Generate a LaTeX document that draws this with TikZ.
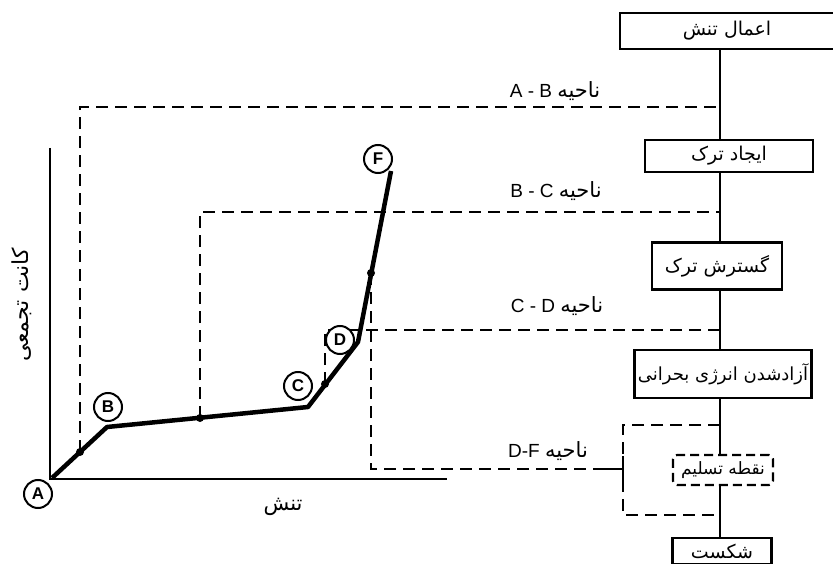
\documentclass[tikz,border=0pt]{standalone}
\usepackage{fontspec}
\setmainfont{Liberation Sans}
\newfontfamily\farsi[Script=Arabic]{DejaVu Sans}
\usetikzlibrary{positioning}
\TeXXeTstate=1

\begin{document}
\begin{tikzpicture}[x=1pt, y=-1pt,
  box/.style={draw, line width=2.2pt, minimum height=32pt, inner sep=2pt, fill=white, font=\farsi\fontsize{19}{21}\selectfont, align=center},
  ptmark/.style={draw, circle, line width=2pt, minimum size=28pt, inner sep=0pt, fill=white, font=\bfseries\fontsize{17}{17}\selectfont},
  dot/.style={circle, fill, inner sep=0pt, minimum size=8pt},
  dashline/.style={line width=2.6pt, dash pattern=on 12pt off 7pt},
  curve/.style={line width=4.5pt, line join=round},
  zone/.style={font=\fontsize{19}{21}\selectfont},
  fa/.style={font=\farsi\fontsize{21}{23}\selectfont}
]
  \useasboundingbox (0,0) rectangle (833,564);

  % process column
  \node[box, minimum width=214pt, minimum height=36pt] (apply) at (727,31) {\beginR اعمال تنش\endR};
  \node[box, minimum width=168pt] (init) at (729,156) {\beginR ایجاد ترک\endR};
  \node[box, minimum width=130pt, minimum height=47pt] (grow) at (717,266) {\beginR گسترش ترک\endR};
  \node[box, minimum width=177pt, minimum height=48pt, font=\farsi\fontsize{18}{20}\selectfont] (release) at (723,374) {\beginR آزادشدن انرژی بحرانی\endR};
  \node[box, dash pattern=on 9pt off 5pt, rounded corners=4pt, minimum width=100pt, minimum height=30pt, font=\farsi\fontsize{17}{19}\selectfont] (yield) at (723,470) {\beginR نقطه تسلیم\endR};
  \node[box, minimum width=99pt, minimum height=26pt] (fail) at (722,551) {\beginR شکست\endR};

  \coordinate (spine) at (720,0);
  \draw[line width=2.2pt] (apply.south -| spine) -- (init.north -| spine);
  \draw[line width=2.2pt] (init.south -| spine) -- (grow.north -| spine);
  \draw[line width=2.2pt] (grow.south -| spine) -- (release.north -| spine);
  \draw[line width=2.2pt] (release.south -| spine) -- (yield.north -| spine);
  \draw[line width=2.2pt] (yield.south -| spine) -- (fail.north -| spine);

  % axes
  \coordinate (org) at (50,479);
  \coordinate (ytop) at (50,148);
  \coordinate (xend) at (447,479);
  \draw[line width=2.6pt] (ytop) -- (org) -- (xend);
  \node[fa] (xlab) at (283,507) {\beginR تنش\endR};
  \node[fa, rotate=90, font=\farsi\fontsize{22}{24}\selectfont] (ylab) at (22,305) {\beginR کانت تجمعی\endR};

  % curve points
  \coordinate (pA) at (52,478);
  \coordinate (pB) at (107,427);
  \coordinate (pC) at (308,407);
  \coordinate (pD) at (358,342);
  \coordinate (pF) at (391,171);
  \node[dot] (d1) at (80,452) {};
  \node[dot] (d2) at (200,418) {};
  \node[dot] (d3) at (325,384) {};
  \node[dot] (d4) at (371,273) {};

  % zone links
  \coordinate (jAB) at (720,107);
  \coordinate (jBC) at (720,212);
  \coordinate (jCD) at (720,330);
  \coordinate (bTop) at (720,425);
  \coordinate (bBot) at (720,515);
  \coordinate (bL) at (623,469);
  \coordinate (tk) at (602,469);
  \draw[dashline] (d1.center) |- (jAB);
  \draw[dashline] (d2.center) |- (jBC);
  \draw[dashline] (d3.center) |- (jCD);
  \draw[dashline] (d4.center) |- (tk);
  \draw[dashline] (bTop) -| (bL) |- (bBot);
  \draw[line width=2.6pt] (tk) -- (bL);
  \draw[line width=2.6pt] (bL) ++(0,-13) -- ++(0,26);

  \node[zone] (lAB) at (555,91) {A - B {\farsi\fontsize{21}{23}\selectfont\beginR ناحیه\endR}};
  \node[zone] (lBC) at (556,191) {B - C {\farsi\fontsize{21}{23}\selectfont\beginR ناحیه\endR}};
  \node[zone] (lCD) at (557,306) {C - D {\farsi\fontsize{21}{23}\selectfont\beginR ناحیه\endR}};
  \node[zone] (lDF) at (548,451) {D-F {\farsi\fontsize{21}{23}\selectfont\beginR ناحیه\endR}};

  % curve
  \draw[curve] (pA) -- (pB) -- (pC) -- (pD) -- (pF);

  \node[ptmark] (mA) at (38,494) {A};
  \node[ptmark] (mB) at (108,407) {B};
  \node[ptmark] (mC) at (298,386) {C};
  \node[ptmark] (mD) at (340,340) {D};
  \node[ptmark] (mF) at (378,159) {F};
\end{tikzpicture}
\end{document}
